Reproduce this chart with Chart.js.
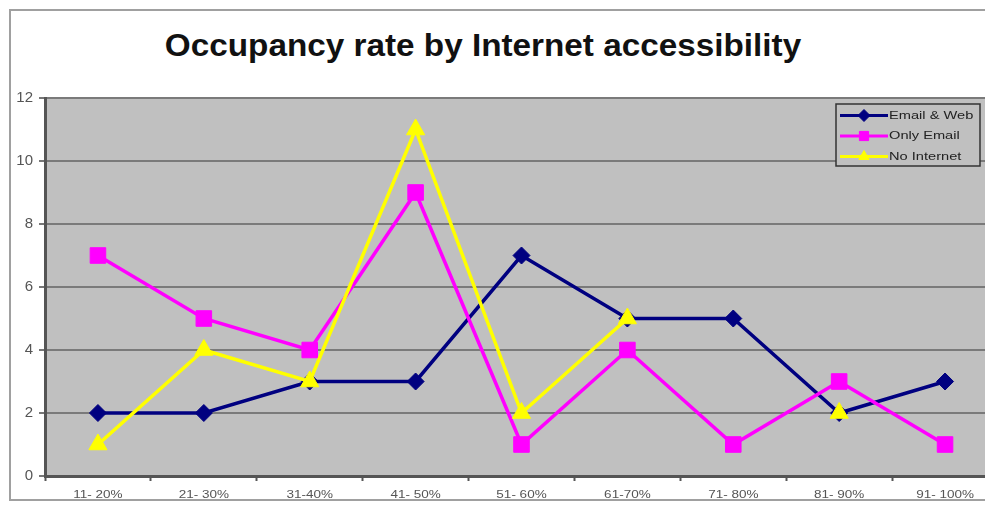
<!DOCTYPE html>
<html>
<head>
<meta charset="utf-8">
<script src="https://cdn.jsdelivr.net/npm/chart.js@4/dist/chart.umd.min.js"></script>
<style>
  html, body { margin: 0; padding: 0; background: #fff; overflow: hidden; }
  body { width: 985px; height: 506px; position: relative; }
  #frame {
    position: absolute; left: 9px; top: 9px; width: 1100px; height: 492px;
    border: 2px solid #a0a0a0; box-sizing: border-box;
  }
  #title {
    position: absolute; left: 0; top: 27px; width: 966px; text-align: center;
    font: bold 32px "Liberation Sans", Arial, sans-serif; color: #111;
    transform: scaleX(1.04); transform-origin: 483px 0;
  }
  #wrap { position: absolute; left: 0; top: 0; width: 1010px; height: 506px; }
</style>
</head>
<body>
<div id="frame"></div>
<div id="title">Occupancy rate by Internet accessibility</div>
<div id="wrap"><canvas id="chart" width="1010" height="506"></canvas></div>
<script>
// Occupancy-rate bands and counts per band for each access group
const categories = ["11- 20%", "21- 30%", "31-40%", "41- 50%", "51- 60%", "61-70%", "71- 80%", "81- 90%", "91- 100%"];
const emailAndWeb = [2, 2, 3, 3, 7, 5, 5, 2, 3];
const onlyEmail   = [7, 5, 4, 9, 1, 4, 1, 3, 1];
const noInternet  = [1, 4, 3, 11, 2, 5, null, 2, null];
const yTicks = [0, 2, 4, 6, 8, 10, 12];

const seriesNames = ["Email & Web", "Only Email", "No Internet"];
const FONT = '"Liberation Sans", Arial, sans-serif';

// draw text slightly widened horizontally
function wideText(ctx, text, x, y, stretch, align) {
  ctx.save();
  ctx.translate(x, y);
  ctx.scale(stretch, 1);
  ctx.textAlign = align;
  ctx.fillText(text, 0, 0);
  ctx.restore();
}

// grey plot background
const plotBackground = {
  id: 'plotBackground',
  beforeDraw(chart) {
    const { ctx, chartArea: a } = chart;
    ctx.save();
    ctx.fillStyle = '#c0c0c0';
    ctx.fillRect(a.left, a.top, a.right - a.left, a.bottom - a.top);
    ctx.restore();
  }
};

// category labels under the x axis, positioned by the x scale
const categoryLabels = {
  id: 'categoryLabels',
  afterDraw(chart) {
    const ctx = chart.ctx;
    const xs = chart.scales.x;
    ctx.save();
    ctx.fillStyle = '#555';
    ctx.font = '10px ' + FONT;
    ctx.textBaseline = 'middle';
    chart.data.labels.forEach((lab, i) => {
      wideText(ctx, lab, xs.getPixelForTick(i), xs.bottom - 11, 1.35, 'center');
    });
    ctx.restore();
  }
};

// boxed legend sitting inside the plot, top right
const innerLegend = {
  id: 'innerLegend',
  afterDraw(chart) {
    const ctx = chart.ctx;
    const box = { x: 836, y: 104, w: 144, h: 62 };
    ctx.save();
    ctx.fillStyle = '#c0c0c0';
    ctx.fillRect(box.x, box.y, box.w, box.h);
    ctx.strokeStyle = '#333';
    ctx.lineWidth = 1.5;
    ctx.strokeRect(box.x, box.y, box.w, box.h);
    const rows = [115.5, 136, 156.5];
    const radii = [6, 6.5, 6];
    chart.data.datasets.forEach((ds, i) => {
      const y = rows[i];
      ctx.strokeStyle = ds.borderColor;
      ctx.lineWidth = 3;
      ctx.beginPath();
      ctx.moveTo(840, y);
      ctx.lineTo(888, y);
      ctx.stroke();
      ctx.fillStyle = ds.pointBackgroundColor;
      ctx.lineWidth = 1;
      Chart.helpers.drawPoint(ctx, { pointStyle: ds.pointStyle, rotation: 0, radius: radii[i], borderWidth: 1 }, 864, y);
      ctx.fillStyle = '#222';
      ctx.font = '11px ' + FONT;
      ctx.textBaseline = 'middle';
      wideText(ctx, seriesNames[i], 889, y, 1.33, 'left');
    });
    ctx.restore();
  }
};

new Chart(document.getElementById('chart'), {
  type: 'line',
  data: {
    labels: categories,
    datasets: [
      {
        label: seriesNames[0], data: emailAndWeb,
        borderColor: '#000080', backgroundColor: '#000080', pointBackgroundColor: '#000080',
        borderWidth: 3.5, pointStyle: 'rectRot', pointRadius: 8.5, pointBorderWidth: 1,
        tension: 0, order: 3
      },
      {
        label: seriesNames[1], data: onlyEmail,
        borderColor: '#ff00ff', backgroundColor: '#ff00ff', pointBackgroundColor: '#ff00ff',
        borderWidth: 3.5, pointStyle: 'rect', pointRadius: 11, pointBorderWidth: 1,
        tension: 0, order: 2
      },
      {
        label: seriesNames[2], data: noInternet,
        borderColor: '#ffff00', backgroundColor: '#ffff00', pointBackgroundColor: '#ffff00',
        borderWidth: 3.5, pointStyle: 'triangle', pointRadius: 10.5, pointBorderWidth: 1,
        tension: 0, order: 1, spanGaps: false
      }
    ]
  },
  options: {
    responsive: false,
    animation: false,
    events: [],
    layout: { padding: { top: 98, right: 12, left: 0, bottom: 0 } },
    plugins: {
      legend: { display: false },
      title: { display: false },
      tooltip: { enabled: false }
    },
    scales: {
      x: {
        offset: true,
        grid: {
          offset: true, drawOnChartArea: false, tickLength: 5,
          tickColor: '#555', tickWidth: 2
        },
        border: { color: '#555', width: 3 },
        ticks: { display: false },
        afterFit(scale) { scale.height = 30; }
      },
      y: {
        min: 0, max: 12,
        afterBuildTicks(scale) { scale.ticks = yTicks.map(v => ({ value: v })); },
        grid: {
          color: '#7a7a7a', lineWidth: 2, tickLength: 6,
          tickColor: '#777', drawTicks: true
        },
        border: { color: '#555', width: 3 },
        ticks: {
          color: '#555', padding: 6,
          font: { family: FONT, size: 15 }
        },
        afterFit(scale) { scale.width = 45; }
      }
    }
  },
  plugins: [plotBackground, categoryLabels, innerLegend]
});
</script>
</body>
</html>
